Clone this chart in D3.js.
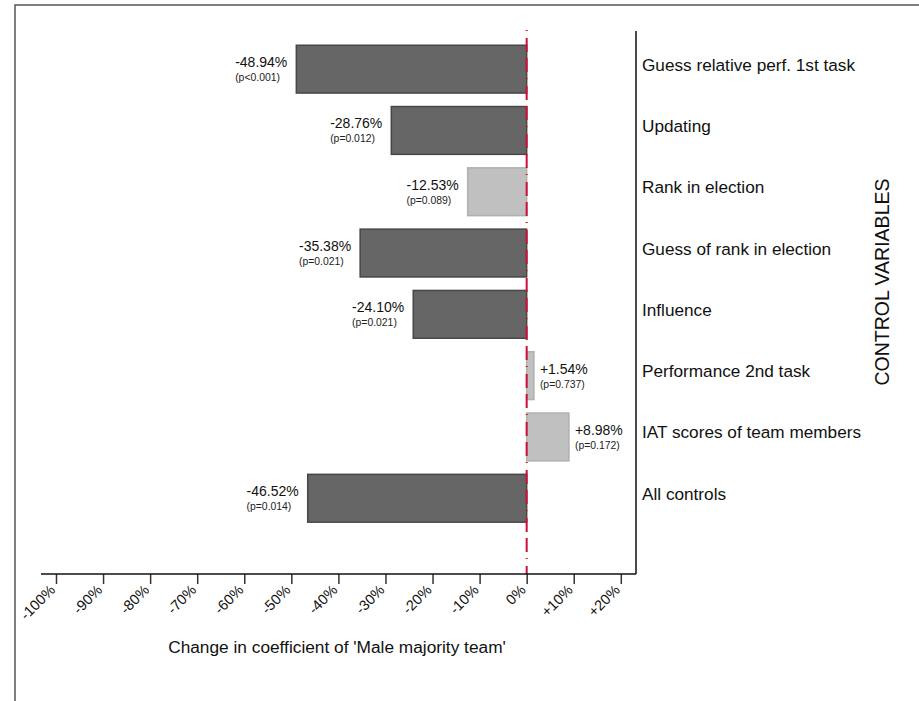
<!DOCTYPE html>
<html><head><meta charset="utf-8">
<script src="https://cdn.jsdelivr.net/npm/d3@7"></script>
<style>body{margin:0;background:#fff;font-family:"Liberation Sans",Arial,sans-serif;}</style>
</head><body>
<svg id="c" width="919" height="701"></svg>
<script>
const categories = ["Guess relative perf. 1st task","Updating","Rank in election","Guess of rank in election","Influence","Performance 2nd task","IAT scores of team members","All controls"];
const values = [-48.94,-28.76,-12.53,-35.38,-24.10,1.54,8.98,-46.52];
const pLabels = ["(p<0.001)","(p=0.012)","(p=0.089)","(p=0.021)","(p=0.021)","(p=0.737)","(p=0.172)","(p=0.014)"];
const significant = [true,true,false,true,true,false,false,true];
const tickValues = [-100,-90,-80,-70,-60,-50,-40,-30,-20,-10,0,10,20];
const tickLabels = ["-100%","-90%","-80%","-70%","-60%","-50%","-40%","-30%","-20%","-10%","0%","+10%","+20%"];

const svg = d3.select("#c");
const font = '"Liberation Sans",Arial,sans-serif';

// outer frame
svg.append("rect").attr("x",15).attr("y",5).attr("width",920).attr("height",720)
  .attr("fill","none").attr("stroke","#555").attr("stroke-width",1.5);

const x = d3.scaleLinear().domain([-100,20]).range([56,620.8]);
const y = d3.scaleBand().domain(categories).range([38.5,528.9]).paddingInner(0.22).paddingOuter(0.11);

const axisY = 574, rightX = 636;

// bars
svg.selectAll("rect.bar").data(values).join("rect")
  .attr("class","bar")
  .attr("x",d=>x(Math.min(0,d)))
  .attr("width",d=>Math.abs(x(d)-x(0)))
  .attr("y",(d,i)=>y(categories[i]))
  .attr("height",y.bandwidth())
  .attr("fill",(d,i)=>significant[i]?"#666666":"#c0c0c0")
  .attr("stroke",(d,i)=>significant[i]?"#474747":"#b0b0b0")
  .attr("stroke-width",1.5);

// value labels
values.forEach((d,i)=>{
  const cy = y(categories[i]) + y.bandwidth()/2;
  const g = svg.append("g");
  const t1 = g.append("text").text((d>0?"+":"")+d.toFixed(2)+"%")
    .attr("font-family",font).attr("font-size",14).attr("fill","#111");
  const w1 = t1.node().getComputedTextLength();
  const left = d<0 ? x(d)-9-w1 : x(d)+6;
  t1.attr("x",left).attr("y",cy-2);
  g.append("text").text(pLabels[i]).attr("x",left).attr("y",cy+12)
    .attr("font-family",font).attr("font-size",10.4).attr("fill","#222");
});

// dashed zero line
svg.append("line").attr("x1",x(0)).attr("x2",x(0)).attr("y1",30).attr("y2",axisY)
  .attr("stroke","#c8103a").attr("stroke-width",2).attr("stroke-dasharray","1,7,14,6,14,6");

// x axis ticks (lines via d3 axis, labels drawn explicitly)
const xa = svg.append("g").attr("transform",`translate(0,${axisY})`)
  .call(d3.axisBottom(x).tickValues(tickValues).tickFormat("").tickSize(10).tickSizeOuter(0));
xa.select(".domain").remove();
xa.selectAll(".tick line").attr("stroke","#333").attr("stroke-width",1.5);
svg.append("g").selectAll("text").data(tickValues).join("text")
  .attr("transform",d=>`translate(${x(d)},${axisY+17}) rotate(-45)`)
  .attr("text-anchor","end")
  .attr("font-family",font).attr("font-size",14.5).attr("fill","#111")
  .text((d,i)=>tickLabels[i]);
svg.append("line").attr("x1",41).attr("x2",rightX).attr("y1",axisY).attr("y2",axisY)
  .attr("stroke","#111").attr("stroke-width",1.5);
svg.append("line").attr("x1",rightX).attr("x2",rightX).attr("y1",31).attr("y2",axisY)
  .attr("stroke","#111").attr("stroke-width",1.5);

// category labels
svg.selectAll("text.cat").data(categories).join("text").attr("class","cat")
  .attr("x",642).attr("y",d=>y(d)+y.bandwidth()/2+1.5)
  .attr("font-family",font).attr("font-size",17.2).attr("fill","#111").text(d=>d);

svg.append("text").attr("transform","translate(889,282) rotate(-90)")
  .attr("text-anchor","middle").attr("font-family",font).attr("font-size",19.5).attr("fill","#111")
  .text("CONTROL VARIABLES");

svg.append("text").attr("x",337).attr("y",653).attr("text-anchor","middle")
  .attr("font-family",font).attr("font-size",17.3).attr("fill","#111")
  .text("Change in coefficient of 'Male majority team'");
</script>
</body></html>
